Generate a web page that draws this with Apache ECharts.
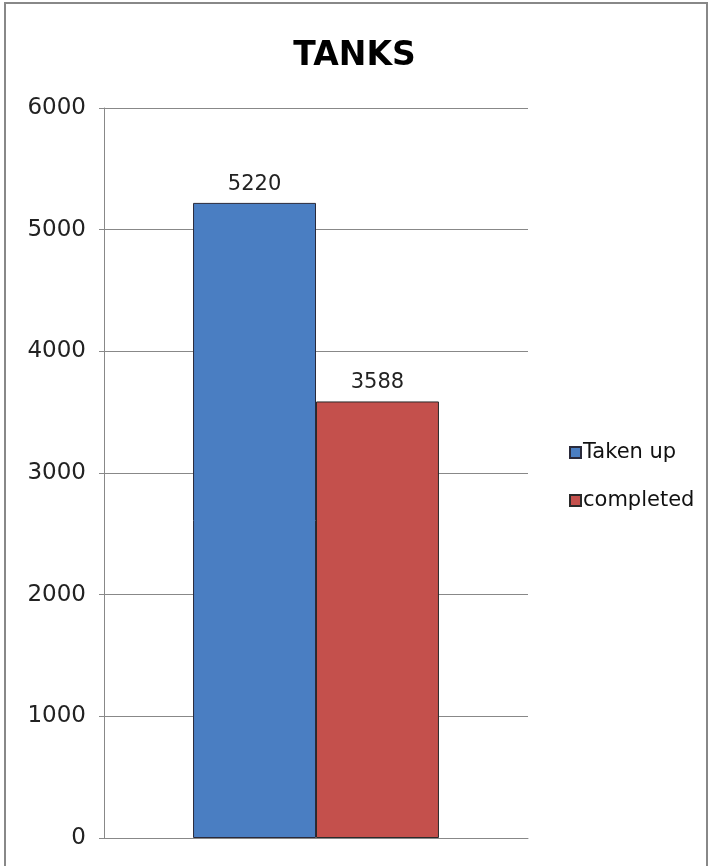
<!DOCTYPE html>
<html><head><meta charset="utf-8">
<script src="https://cdn.jsdelivr.net/npm/echarts@6/dist/echarts.min.js"></script>
<style>html,body{margin:0;padding:0;background:#fff}#c{width:709px;height:866px}</style>
</head><body><div id="c"></div>
<script>
const titleText = 'TANKS';
const categories = [''];
const seriesNames = ['Taken up', 'completed'];
const takenUp = [5220];
const completed = [3588];
const yTicks = [0, 1000, 2000, 3000, 4000, 5000, 6000];

const chart = echarts.init(document.getElementById('c'));
const font = 'DejaVu Sans, Verdana, sans-serif';
chart.setOption({
  animation: false,
  backgroundColor: '#fff',
  title: { text: titleText, left: 'center', top: 35, textStyle: { fontFamily: font, fontSize: 33, fontWeight: 'bold', color: '#000' } },
  graphic: [{ type: 'rect', shape: { x: 5, y: 3, width: 702, height: 880 }, style: { fill: 'none', stroke: '#888', lineWidth: 2 }, silent: true }],
  legend: {
    orient: 'vertical', left: 564, top: 437, itemGap: 27, itemWidth: 11, itemHeight: 11,
    icon: 'rect',
    textStyle: { fontFamily: font, fontSize: 21, color: '#111', padding: [0, 0, 0, -3] },
    data: seriesNames
  },
  grid: { left: 104, right: 181, top: 108, bottom: 28, containLabel: false },
  xAxis: {
    type: 'category', data: categories,
    axisLine: { show: true, lineStyle: { color: '#888' } },
    axisTick: { show: false }, axisLabel: { show: false }
  },
  yAxis: {
    type: 'value', min: yTicks[0], max: yTicks[yTicks.length - 1], interval: 1000,
    axisLine: { show: true, lineStyle: { color: '#888' } },
    axisTick: { show: true, length: 5, lineStyle: { color: '#888' } },
    splitLine: { lineStyle: { color: '#888' } },
    axisLabel: { fontFamily: font, fontSize: 23, color: '#222', margin: 18, formatter: v => String(v) }
  },
  series: [
    { name: seriesNames[0], type: 'bar', data: takenUp, barGap: '0%', barCategoryGap: '42%',
      itemStyle: { color: '#4a7ec2', borderColor: '#2a2a3a', borderWidth: 1 },
      label: { show: true, position: 'top', distance: 8, fontFamily: font, fontSize: 21, color: '#222' } },
    { name: seriesNames[1], type: 'bar', data: completed,
      itemStyle: { color: '#c4504c', borderColor: '#2a2a2a', borderWidth: 1 },
      label: { show: true, position: 'top', distance: 8, fontFamily: font, fontSize: 21, color: '#222' } }
  ]
});
</script></body></html>
